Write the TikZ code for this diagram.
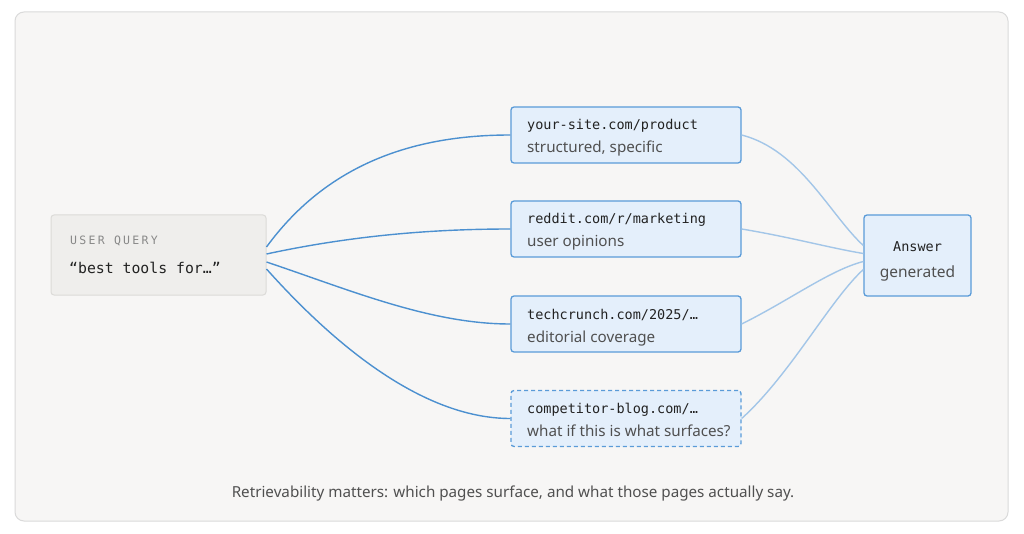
\documentclass[tikz,border=0pt]{standalone}
\usepackage{fontspec}
\setmainfont{Noto Sans}
\setmonofont{DejaVu Sans Mono}
\newfontfamily\labelmono[LetterSpace=20]{DejaVu Sans Mono}
\definecolor{bgc}{HTML}{FFFFFF}
\definecolor{panel}{HTML}{F7F6F5}
\definecolor{panelb}{HTML}{DADADA}
\definecolor{qfill}{HTML}{EFEEEC}
\definecolor{qborder}{HTML}{DCDBD8}
\definecolor{sfill}{HTML}{E4EFFB}
\definecolor{sborder}{HTML}{5A9BD8}
\definecolor{lineA}{HTML}{4C90D0}
\definecolor{lineB}{HTML}{A3C6E8}
\definecolor{txt}{HTML}{222222}
\definecolor{subtxt}{HTML}{505050}
\definecolor{lbl}{HTML}{888888}
\begin{document}
\begin{tikzpicture}[x=1pt,y=-1pt,
  srcbox/.style={draw=sborder,fill=sfill,line width=1.3pt,rounded corners=3pt,minimum width=230pt,minimum height=56pt,inner sep=0pt},
  tline/.style={anchor=base west,inner sep=0pt,font=\ttfamily\fontsize{13.5}{15}\selectfont,text=txt},
  sline/.style={anchor=base west,inner sep=0pt,font=\fontsize{15.2}{17}\selectfont,text=subtxt},
  conA/.style={draw=lineA,line width=1.4pt},
  conB/.style={draw=lineB,line width=1.4pt}]
\useasboundingbox (0,0) rectangle (1024,534);
\fill[bgc] (0,0) rectangle (1024,534);
\draw[draw=panelb,fill=panel,line width=1pt,rounded corners=9pt] (15,12) rectangle (1008,521);

% query
\node[draw=qborder,fill=qfill,line width=1pt,rounded corners=3pt,minimum width=215pt,minimum height=80pt,inner sep=0pt] (q) at (158.5,255) {};
\node[anchor=base west,inner sep=0pt,font=\labelmono\fontsize{11.5}{13}\selectfont,text=lbl] (ql) at (70,245) {USER QUERY};
\node[anchor=base west,inner sep=0pt,font=\ttfamily\fontsize{14.8}{17}\selectfont,text=txt] (qt) at (69,274) {“best tools for…”};

% sources
\node[srcbox] (s1) at (626,135) {};
\node[srcbox] (s2) at (626,229) {};
\node[srcbox] (s3) at (626,324) {};
\node[srcbox,dashed,dash pattern=on 4pt off 3pt] (s4) at (626,418.5) {};
\node[tline] (s1a) at (527,130) {your-site.com/product};
\node[sline] (s1b) at (527,153) {structured, specific};
\node[tline] (s2a) at (527,224) {reddit.com/r/marketing};
\node[sline] (s2b) at (527,247) {user opinions};
\node[tline] (s3a) at (527,319) {techcrunch.com/2025/…};
\node[sline] (s3b) at (527,342) {editorial coverage};
\node[tline] (s4a) at (527,413.5) {competitor-blog.com/…};
\node[sline] (s4b) at (527,436.5) {what if this is what surfaces?};

% answer
\node[draw=sborder,fill=sfill,line width=1.3pt,rounded corners=3pt,minimum width=107pt,minimum height=81pt,inner sep=0pt] (ans) at (917.5,255.5) {};
\node[anchor=base,inner sep=0pt,font=\ttfamily\fontsize{13.5}{15}\selectfont,text=txt] (ansa) at (917.5,252) {Answer};
\node[anchor=base,inner sep=0pt,font=\fontsize{15.5}{17}\selectfont,text=subtxt] (ansb) at (917.5,277) {generated};

% connectors left
\path[conA] ([yshift=8pt]q.east) .. controls (330,160) and (420,135) .. (s1.west);
\path[conA] ([yshift=1pt]q.east) .. controls (350,236) and (430,229) .. (s2.west);
\path[conA] ([yshift=-7pt]q.east) .. controls (350,290) and (430,324) .. (s3.west);
\path[conA] ([yshift=-14pt]q.east) .. controls (330,340) and (420,418.5) .. (s4.west);

% connectors right
\path[conB] (s1.east) .. controls (800,150) and (830,215) .. ([yshift=10pt]ans.west);
\path[conB] (s2.east) .. controls (790,237) and (830,248) .. ([yshift=2pt]ans.west);
\path[conB] (s3.east) .. controls (790,300) and (830,270) .. ([yshift=-6pt]ans.west);
\path[conB] (s4.east) .. controls (790,375) and (830,300) .. ([yshift=-14pt]ans.west);

% caption
\node[anchor=base,inner sep=0pt,font=\fontsize{15.2}{17}\selectfont,text=subtxt] (cap) at (513,497) {Retrievability matters: which pages surface, and what those pages actually say.};
\end{tikzpicture}
\end{document}
